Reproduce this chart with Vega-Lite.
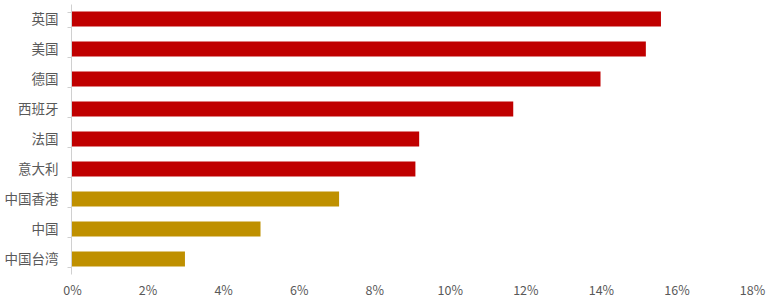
{
  "$schema": "https://vega.github.io/schema/vega-lite/v6.json",
  "width": 680,
  "height": 270,
  "autosize": "none",
  "padding": {"left": 72, "top": 4, "right": 17, "bottom": 31},
  "background": "white",
  "data": {
    "values": [
      {"country": "英国", "value": 0.1559, "group": "a"},
      {"country": "美国", "value": 0.1519, "group": "a"},
      {"country": "德国", "value": 0.1399, "group": "a"},
      {"country": "西班牙", "value": 0.1168, "group": "a"},
      {"country": "法国", "value": 0.0919, "group": "a"},
      {"country": "意大利", "value": 0.0909, "group": "a"},
      {"country": "中国香港", "value": 0.0707, "group": "b"},
      {"country": "中国", "value": 0.0499, "group": "b"},
      {"country": "中国台湾", "value": 0.0299, "group": "b"}
    ]
  },
  "config": {
    "view": {"stroke": null},
    "font": "Noto Sans CJK SC"
  },
  "mark": {"type": "bar"},
  "encoding": {
    "y": {
      "field": "country",
      "type": "nominal",
      "sort": null,
      "scale": {"paddingInner": 0.5, "paddingOuter": 0.25},
      "axis": {
        "title": null,
        "domainColor": "#d0d0d0",
        "domainWidth": 1,
        "offset": 1,
        "tickColor": "#d0d0d0",
        "tickSize": 4,
        "tickBand": "extent",
        "labelColor": "#595959",
        "labelFontSize": 13.5,
        "labelPadding": 9,
        "grid": false
      }
    },
    "x": {
      "field": "value",
      "type": "quantitative",
      "scale": {"domain": [0, 0.18], "nice": false},
      "axis": {
        "title": null,
        "format": ".0%",
        "values": [0, 0.02, 0.04, 0.06, 0.08, 0.1, 0.12, 0.14, 0.16, 0.18],
        "domain": false,
        "ticks": false,
        "grid": false,
        "labelFlush": false,
        "labelColor": "#595959",
        "labelFontSize": 12.5,
        "labelPadding": 10
      }
    },
    "color": {
      "field": "group",
      "type": "nominal",
      "scale": {"domain": ["a", "b"], "range": ["#C00000", "#BF9000"]},
      "legend": null
    }
  }
}
